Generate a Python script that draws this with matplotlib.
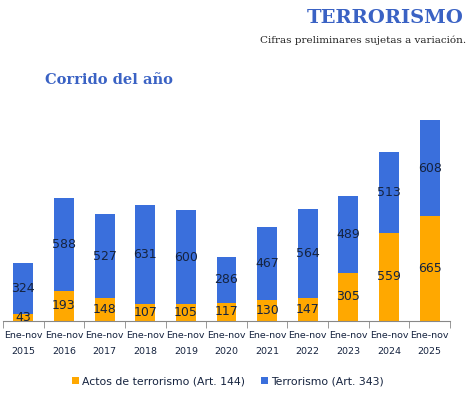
import matplotlib.pyplot as plt
import numpy as np

years = ['2015', '2016', '2017', '2018', '2019', '2020', '2021', '2022', '2023', '2024', '2025']
tick_labels = ['Ene-nov\n' + y for y in years]
actos = [43, 193, 148, 107, 105, 117, 130, 147, 305, 559, 665]
terrorismo = [324, 588, 527, 631, 600, 286, 467, 564, 489, 513, 608]

ORANGE = '#FFA800'
BLUE = '#3A6FDC'
NAVY = '#15233F'
TITLE_BLUE = '#3A62C4'

plt.rcParams['font.family'] = ['Liberation Sans Narrow', 'DejaVu Sans']

fig = plt.figure(figsize=(4.7, 3.94), dpi=100)
ax = fig.add_axes([3/470, (394-321)/394, 447/470, 221/394])

x = np.arange(len(years))
w = 0.49
b1 = ax.bar(x, actos, w, color=ORANGE, label='Actos de terrorismo (Art. 144)')
b2 = ax.bar(x, terrorismo, w, bottom=actos, color=BLUE, label='Terrorismo (Art. 343)')

for i in range(len(years)):
    ax.text(x[i], actos[i] / 2, str(actos[i]), ha='center', va='center',
            fontsize=9, color=NAVY)
    ax.text(x[i], actos[i] + terrorismo[i] / 2, str(terrorismo[i]), ha='center',
            va='center', fontsize=9, color=NAVY)

ax.set_xlim(-0.5, len(years) - 0.5)
ax.set_ylim(0, 1400)
ax.set_yticks([])
for s in ['top', 'right', 'left']:
    ax.spines[s].set_visible(False)
ax.spines['bottom'].set_color('#888888')
ax.set_xticks(x)
ax.set_xticklabels(tick_labels, fontsize=6.8, color=NAVY, linespacing=2.0)
ax.tick_params(axis='x', length=0, pad=7)
ax.set_xticks(np.arange(-0.5, len(years), 1.0), minor=True)
ax.tick_params(axis='x', which='minor', length=5, color='#888888')

fig.text(464/470, 1 - 18/394, 'TERRORISMO', ha='right', va='center',
         fontsize=14, fontweight='bold', color=TITLE_BLUE, family='DejaVu Serif')
fig.text(466/470, 1 - 40/394, 'Cifras preliminares sujetas a variación.', ha='right',
         va='center', fontsize=7.5, color='#222222', family='DejaVu Serif')
fig.text(45/470, 1 - 80/394, 'Corrido del año', ha='left', va='center',
         fontsize=10.5, fontweight='bold', color=TITLE_BLUE, family='DejaVu Serif')

fig.legend(handles=[b1, b2], loc='center', bbox_to_anchor=(228/470, 1 - 381/394),
           ncol=2, frameon=False, fontsize=7.8, handlelength=0.6, handleheight=0.6,
           handletextpad=0.3, columnspacing=1.5, labelcolor=NAVY)

fig.savefig('out.png', dpi=100)
